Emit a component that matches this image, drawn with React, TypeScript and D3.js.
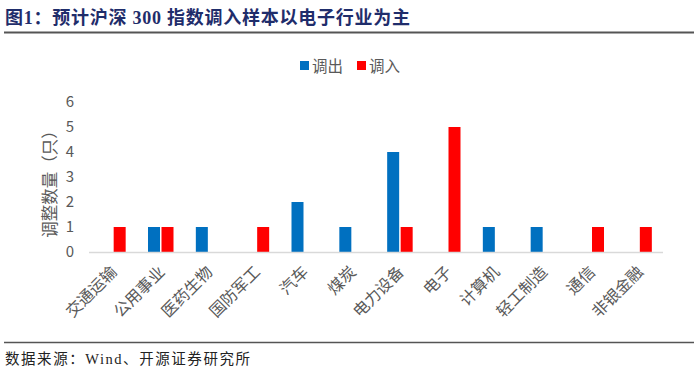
import React, { useEffect, useRef } from 'react';
import * as d3 from 'd3';

const categories = ['交通运输', '公用事业', '医药生物', '国防军工', '汽车', '煤炭', '电力设备', '电子', '计算机', '轻工制造', '通信', '非银金融'];
const outValues = [0, 1, 1, 0, 2, 1, 4, 0, 1, 1, 0, 0];
const inValues = [1, 1, 0, 1, 0, 0, 1, 5, 0, 0, 1, 1];
const yTicks = [0, 1, 2, 3, 4, 5, 6];
const seriesNames = ['调出', '调入'];
const colors = ['#0070C0', '#FF0000'];

const W = 699;
const H = 374;
const font = '"Noto Sans CJK SC", "Noto Sans", sans-serif';
const serif = '"Liberation Serif", "Noto Sans CJK SC", serif';

export default function App() {
  const ref = useRef<SVGSVGElement>(null);

  useEffect(() => {
    const svg = d3.select(ref.current);
    svg.selectAll('*').remove();

    // title and rules
    svg.append('text')
      .attr('x', 5).attr('y', 24)
      .attr('font-family', serif).attr('font-weight', 'bold')
      .attr('font-size', 18).attr('fill', '#1F2D6B')
      .attr('textLength', 405).attr('lengthAdjust', 'spacing')
      .text('图1：预计沪深 300 指数调入样本以电子行业为主');
    svg.append('line').attr('x1', 4).attr('x2', 694).attr('y1', 32.5).attr('y2', 32.5)
      .attr('stroke', '#555').attr('stroke-width', 2);
    svg.append('line').attr('x1', 4).attr('x2', 694).attr('y1', 342.5).attr('y2', 342.5)
      .attr('stroke', '#555').attr('stroke-width', 1.5);
    svg.append('text')
      .attr('x', 5).attr('y', 364)
      .attr('font-family', serif).attr('font-size', 14.5).attr('fill', '#222')
      .attr('textLength', 245).attr('lengthAdjust', 'spacing')
      .text('数据来源：Wind、开源证券研究所');

    const x = d3.scaleBand<string>().domain(categories).range([89, 663]);
    const y = d3.scaleLinear().domain([0, 6]).range([252, 102]);
    const barW = 12;
    const gap = 1.5;

    const g = svg.append('g');

    // y ticks
    g.selectAll('.ytick').data(yTicks).join('text')
      .attr('x', 74).attr('y', d => y(d) + 5)
      .attr('text-anchor', 'end')
      .attr('font-family', font).attr('font-size', 15).attr('fill', '#595959')
      .text(d => d);

    // y label
    g.append('text')
      .attr('transform', `translate(56,180) rotate(-90)`)
      .attr('text-anchor', 'middle')
      .attr('font-family', font).attr('font-size', 16.5).attr('fill', '#595959')
      .text('调整数量（只）');

    // bars
    const series = [outValues, inValues];
    series.forEach((vals, si) => {
      g.selectAll(`.bar${si}`).data(categories.map((c, i) => ({ c, v: vals[i] })).filter(d => d.v > 0)).join('rect')
        .attr('x', d => x(d.c)! + x.bandwidth() / 2 + (si === 0 ? -gap / 2 - barW : gap / 2))
        .attr('y', d => y(d.v))
        .attr('width', barW)
        .attr('height', d => y(0) - y(d.v))
        .attr('fill', colors[si]);
    });

    // x axis line
    g.append('line').attr('x1', 89).attr('x2', 663).attr('y1', y(0) + 0.5).attr('y2', y(0) + 0.5)
      .attr('stroke', '#D9D9D9').attr('stroke-width', 1.5);

    // x labels
    g.selectAll('.xlab').data(categories).join('text')
      .attr('transform', d => `translate(${x(d)! + x.bandwidth() / 2 + 5},${273}) rotate(-45)`)
      .attr('text-anchor', 'end')
      .attr('font-family', font).attr('font-size', 16).attr('fill', '#595959')
      .text(d => d);

    // legend
    const lx = [300, 357];
    seriesNames.forEach((n, i) => {
      svg.append('rect').attr('x', lx[i]).attr('y', 61).attr('width', 9).attr('height', 9).attr('fill', colors[i]);
      svg.append('text').attr('x', lx[i] + 12).attr('y', 72)
        .attr('font-family', font).attr('font-size', 15.5).attr('fill', '#595959')
        .text(n);
    });
  }, []);

  return <svg ref={ref} width={W} height={H} style={{ position: 'absolute', left: 0, top: 0, background: '#fff' }} />;
}
